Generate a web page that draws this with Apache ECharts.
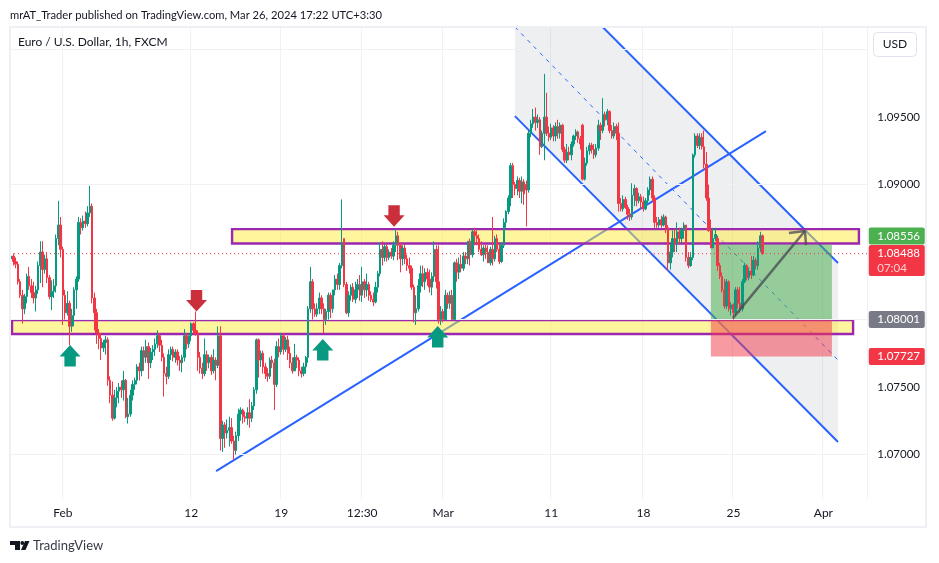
<!DOCTYPE html>
<html>
<head>
<meta charset="utf-8">
<title>EUR/USD 1h</title>
<script src="https://cdn.jsdelivr.net/npm/echarts@6/dist/echarts.min.js"></script>
<style>
    html, body { margin: 0; padding: 0; background: #fff; }
    #chart { width: 939px; height: 563px; }
</style>
</head>
<body>
<div id="chart"></div>
<script>
// 3 hour candles, one slot per 2.25px
const opens = [
    1.0845,1.0847,1.0843,1.0841,1.0828,1.0818,1.0808,1.0817,1.0832,1.0825,
    1.0820,1.0816,1.0822,1.0840,1.0850,1.0837,1.0845,1.0831,1.0817,1.0821,
    1.0825,1.0860,1.0870,1.0852,1.0818,1.0805,1.0812,1.0795,1.0803,1.0822,
    1.0830,1.0872,1.0868,1.0873,1.0871,1.0879,1.0884,1.0816,1.0805,1.0790,
    1.0786,1.0779,1.0783,1.0785,1.0755,1.0744,1.0727,1.0742,1.0747,1.0750,
    1.0748,1.0755,1.0728,1.0730,1.0744,1.0752,1.0755,1.0765,1.0762,1.0777,
    1.0772,1.0780,1.0768,1.0776,1.0778,1.0782,1.0788,1.0781,1.0772,1.0760,
    1.0758,1.0774,1.0778,1.0772,1.0776,1.0770,1.0768,1.0772,1.0788,1.0782,
    1.0788,1.0797,1.0792,1.0790,1.0772,1.0764,1.0760,1.0774,1.0768,1.0772,
    1.0762,1.0770,1.0766,1.0788,1.0712,1.0722,1.0716,1.0718,1.0720,1.0710,
    1.0703,1.0714,1.0730,1.0733,1.0728,1.0727,1.0731,1.0727,1.0736,1.0748,
    1.0785,1.0770,1.0775,1.0765,1.0760,1.0758,1.0770,1.0768,1.0752,1.0780,
    1.0776,1.0788,1.0778,1.0785,1.0775,1.0768,1.0762,1.0772,1.0770,1.0762,
    1.0760,1.0765,1.0772,1.0808,1.0828,1.0808,1.0804,1.0808,1.0816,1.0808,
    1.0800,1.0806,1.0818,1.0808,1.0822,1.0830,1.0826,1.0840,1.0860,1.0826,
    1.0805,1.0818,1.0824,1.0815,1.0822,1.0826,1.0818,1.0828,1.0822,1.0826,
    1.0818,1.0815,1.0813,1.0824,1.0834,1.0852,1.0846,1.0854,1.0846,1.0850,
    1.0847,1.0855,1.0862,1.0855,1.0845,1.0853,1.0845,1.0840,1.0838,1.0824,
    1.0805,1.0808,1.0825,1.0834,1.0828,1.0835,1.0830,1.0824,1.0832,1.0852,
    1.0828,1.0800,1.0806,1.0800,1.0818,1.0812,1.0818,1.0800,1.0842,1.0835,
    1.0841,1.0838,1.0847,1.0845,1.0858,1.0848,1.0865,1.0862,1.0860,1.0852,
    1.0848,1.0853,1.0850,1.0842,1.0852,1.0845,1.0860,1.0852,1.0843,1.0855,
    1.0872,1.0880,1.0890,1.0914,1.0900,1.0897,1.0903,1.0895,1.0902,1.0900,
    1.0896,1.0938,1.0945,1.0950,1.0946,1.0948,1.0928,1.0938,1.0950,1.0938,
    1.0935,1.0942,1.0936,1.0943,1.0938,1.0944,1.0926,1.0918,1.0924,1.0922,
    1.0930,1.0936,1.0939,1.0934,1.0944,1.0904,1.0916,1.0925,1.0929,1.0926,
    1.0922,1.0927,1.0944,1.0940,1.0952,1.0948,1.0954,1.0940,1.0936,1.0943,
    1.0938,1.0886,1.0882,1.0889,1.0883,1.0878,1.0876,1.0892,1.0897,1.0888,
    1.0891,1.0887,1.0882,1.0888,1.0896,1.0904,1.0890,1.0872,1.0870,1.0874,
    1.0870,1.0876,1.0868,1.0842,1.0850,1.0860,1.0856,1.0865,1.0860,1.0866,
    1.0870,1.0846,1.0840,1.0846,1.0922,1.0936,1.0929,1.0935,1.0928,1.0915,
    1.0890,1.0866,1.0853,1.0860,1.0860,1.0840,1.0832,1.0822,1.0810,1.0828,
    1.0808,1.0811,1.0805,1.0822,1.0812,1.0808,1.0828,1.0840,1.0831,1.0836,
    1.0833,1.0844,1.0840,1.0853,1.0862
];
const closes = [
    1.0847,1.0843,1.0841,1.0828,1.0818,1.0808,1.0817,1.0832,1.0825,1.0820,
    1.0816,1.0822,1.0840,1.0850,1.0837,1.0845,1.0831,1.0817,1.0821,1.0825,
    1.0860,1.0870,1.0852,1.0818,1.0805,1.0812,1.0795,1.0803,1.0822,1.0830,
    1.0872,1.0868,1.0873,1.0871,1.0879,1.0884,1.0816,1.0805,1.0790,1.0786,
    1.0779,1.0783,1.0785,1.0755,1.0744,1.0727,1.0742,1.0747,1.0750,1.0748,
    1.0755,1.0728,1.0730,1.0744,1.0752,1.0755,1.0765,1.0762,1.0777,1.0772,
    1.0780,1.0768,1.0776,1.0778,1.0782,1.0788,1.0781,1.0772,1.0760,1.0758,
    1.0774,1.0778,1.0772,1.0776,1.0770,1.0768,1.0772,1.0788,1.0782,1.0788,
    1.0797,1.0792,1.0790,1.0772,1.0764,1.0760,1.0774,1.0768,1.0772,1.0762,
    1.0770,1.0766,1.0788,1.0712,1.0722,1.0716,1.0718,1.0720,1.0710,1.0703,
    1.0714,1.0730,1.0733,1.0728,1.0727,1.0731,1.0727,1.0736,1.0748,1.0785,
    1.0770,1.0775,1.0765,1.0760,1.0758,1.0770,1.0768,1.0752,1.0780,1.0776,
    1.0788,1.0778,1.0785,1.0775,1.0768,1.0762,1.0772,1.0770,1.0762,1.0760,
    1.0765,1.0772,1.0808,1.0828,1.0808,1.0804,1.0808,1.0816,1.0808,1.0800,
    1.0806,1.0818,1.0808,1.0822,1.0830,1.0826,1.0840,1.0857,1.0826,1.0805,
    1.0818,1.0824,1.0815,1.0822,1.0826,1.0818,1.0828,1.0822,1.0826,1.0818,
    1.0815,1.0813,1.0824,1.0834,1.0852,1.0846,1.0854,1.0846,1.0850,1.0847,
    1.0855,1.0862,1.0855,1.0845,1.0853,1.0845,1.0840,1.0838,1.0824,1.0805,
    1.0808,1.0825,1.0834,1.0828,1.0835,1.0830,1.0824,1.0832,1.0852,1.0828,
    1.0800,1.0806,1.0800,1.0818,1.0812,1.0818,1.0800,1.0842,1.0835,1.0841,
    1.0838,1.0847,1.0845,1.0858,1.0848,1.0865,1.0862,1.0860,1.0852,1.0848,
    1.0853,1.0850,1.0842,1.0852,1.0845,1.0860,1.0852,1.0843,1.0855,1.0872,
    1.0880,1.0890,1.0914,1.0900,1.0897,1.0903,1.0895,1.0902,1.0893,1.0896,
    1.0938,1.0945,1.0950,1.0946,1.0948,1.0928,1.0938,1.0950,1.0938,1.0935,
    1.0942,1.0936,1.0943,1.0938,1.0944,1.0926,1.0918,1.0924,1.0922,1.0930,
    1.0936,1.0939,1.0934,1.0930,1.0904,1.0916,1.0925,1.0929,1.0926,1.0922,
    1.0927,1.0944,1.0940,1.0952,1.0948,1.0954,1.0940,1.0936,1.0943,1.0938,
    1.0886,1.0882,1.0889,1.0883,1.0878,1.0876,1.0892,1.0897,1.0888,1.0891,
    1.0887,1.0882,1.0888,1.0896,1.0904,1.0890,1.0872,1.0870,1.0874,1.0870,
    1.0876,1.0868,1.0842,1.0850,1.0860,1.0856,1.0865,1.0860,1.0866,1.0870,
    1.0846,1.0840,1.0846,1.0922,1.0936,1.0929,1.0935,1.0928,1.0915,1.0890,
    1.0866,1.0853,1.0860,1.0863,1.0840,1.0832,1.0822,1.0810,1.0828,1.0808,
    1.0811,1.0805,1.0822,1.0812,1.0808,1.0828,1.0840,1.0831,1.0836,1.0833,
    1.0844,1.0840,1.0853,1.0862,1.08488
];
const lows = [
    1.0842,1.0840,1.0838,1.0826,1.0816,1.0797,1.0804,1.0812,1.0822,1.0816,
    1.0812,1.0806,1.0819,1.0827,1.0824,1.0834,1.0827,1.0815,1.0807,1.0816,
    1.0820,1.0855,1.0846,1.0796,1.0800,1.0803,1.0781,1.0791,1.0795,1.0808,
    1.0828,1.0863,1.0866,1.0868,1.0869,1.0876,1.0812,1.0792,1.0782,1.0778,
    1.0770,1.0776,1.0774,1.0751,1.0738,1.0725,1.0726,1.0735,1.0738,1.0742,
    1.0740,1.0727,1.0723,1.0728,1.0740,1.0748,1.0752,1.0755,1.0758,1.0762,
    1.0768,1.0756,1.0764,1.0770,1.0773,1.0779,1.0776,1.0769,1.0743,1.0752,
    1.0756,1.0770,1.0769,1.0768,1.0766,1.0762,1.0761,1.0769,1.0778,1.0779,
    1.0784,1.0789,1.0788,1.0762,1.0760,1.0756,1.0758,1.0762,1.0764,1.0759,
    1.0760,1.0755,1.0764,1.0703,1.0702,1.0705,1.0712,1.0706,1.0708,1.0696,
    1.0700,1.0710,1.0725,1.0723,1.0724,1.0722,1.0720,1.0724,1.0733,1.0745,
    1.0757,1.0765,1.0760,1.0756,1.0754,1.0756,1.0764,1.0733,1.0750,1.0772,
    1.0774,1.0774,1.0776,1.0770,1.0764,1.0760,1.0762,1.0764,1.0758,1.0757,
    1.0758,1.0760,1.0768,1.0805,1.0800,1.0802,1.0802,1.0804,1.0804,1.0790,
    1.0796,1.0800,1.0801,1.0805,1.0818,1.0822,1.0822,1.0838,1.0824,1.0804,
    1.0802,1.0814,1.0813,1.0812,1.0816,1.0814,1.0813,1.0816,1.0817,1.0814,
    1.0813,1.0810,1.0812,1.0820,1.0832,1.0840,1.0843,1.0843,1.0844,1.0845,
    1.0844,1.0850,1.0844,1.0835,1.0840,1.0841,1.0836,1.0834,1.0822,1.0798,
    1.0796,1.0806,1.0820,1.0824,1.0822,1.0825,1.0820,1.0818,1.0828,1.0823,
    1.0797,1.0796,1.0798,1.0800,1.0808,1.0808,1.0800,1.0800,1.0828,1.0830,
    1.0835,1.0836,1.0841,1.0841,1.0840,1.0846,1.0855,1.0855,1.0850,1.0847,
    1.0843,1.0845,1.0842,1.0840,1.0840,1.0843,1.0850,1.0841,1.0842,1.0853,
    1.0868,1.0878,1.0884,1.0890,1.0892,1.0892,1.0890,1.0886,1.0885,1.0869,
    1.0894,1.0935,1.0942,1.0940,1.0942,1.0922,1.0927,1.0918,1.0936,1.0932,
    1.0933,1.0932,1.0932,1.0934,1.0934,1.0924,1.0916,1.0916,1.0918,1.0918,
    1.0928,1.0933,1.0931,1.0926,1.0903,1.0903,1.0914,1.0922,1.0923,1.0919,
    1.0920,1.0925,1.0933,1.0938,1.0943,1.0944,1.0938,1.0934,1.0934,1.0933,
    1.0880,1.0880,1.0880,1.0882,1.0874,1.0873,1.0874,1.0884,1.0884,1.0886,
    1.0882,1.0880,1.0881,1.0886,1.0892,1.0888,1.0868,1.0868,1.0868,1.0868,
    1.0869,1.0864,1.0836,1.0837,1.0846,1.0850,1.0850,1.0856,1.0857,1.0860,
    1.0843,1.0838,1.0839,1.0844,1.0920,1.0927,1.0926,1.0926,1.0912,1.0888,
    1.0865,1.0853,1.0853,1.0858,1.0836,1.0830,1.0820,1.0808,1.0808,1.0806,
    1.0803,1.0800,1.0803,1.0808,1.0805,1.0806,1.0827,1.0829,1.0829,1.0830,
    1.0832,1.0837,1.0837,1.0850,1.0848
];
const highs = [
    1.0848,1.0849,1.0846,1.0843,1.0830,1.0822,1.0819,1.0834,1.0839,1.0830,
    1.0828,1.0825,1.0843,1.0858,1.0858,1.0848,1.0850,1.0833,1.0829,1.0830,
    1.0863,1.0888,1.0876,1.0854,1.0822,1.0821,1.0814,1.0808,1.0824,1.0832,
    1.0876,1.0875,1.0877,1.0880,1.0884,1.0899,1.0886,1.0820,1.0808,1.0793,
    1.0790,1.0785,1.0788,1.0787,1.0758,1.0754,1.0748,1.0750,1.0753,1.0755,
    1.0762,1.0756,1.0742,1.0748,1.0755,1.0757,1.0767,1.0768,1.0780,1.0780,
    1.0785,1.0783,1.0779,1.0781,1.0786,1.0792,1.0790,1.0785,1.0775,1.0765,
    1.0778,1.0780,1.0780,1.0778,1.0778,1.0773,1.0774,1.0793,1.0790,1.0790,
    1.0798,1.0798,1.0806,1.0792,1.0776,1.0768,1.0786,1.0777,1.0774,1.0774,
    1.0778,1.0772,1.0795,1.0795,1.0725,1.0724,1.0726,1.0728,1.0727,1.0714,
    1.0717,1.0734,1.0735,1.0734,1.0732,1.0735,1.0741,1.0739,1.0750,1.0786,
    1.0786,1.0777,1.0777,1.0768,1.0764,1.0772,1.0773,1.0771,1.0784,1.0786,
    1.0790,1.0790,1.0787,1.0788,1.0780,1.0772,1.0782,1.0774,1.0772,1.0765,
    1.0768,1.0773,1.0810,1.0839,1.0830,1.0812,1.0812,1.0820,1.0818,1.0812,
    1.0808,1.0820,1.0820,1.0822,1.0833,1.0834,1.0842,1.0889,1.0860,1.0828,
    1.0821,1.0826,1.0827,1.0828,1.0830,1.0833,1.0839,1.0830,1.0834,1.0828,
    1.0821,1.0820,1.0828,1.0836,1.0857,1.0858,1.0856,1.0856,1.0852,1.0853,
    1.0858,1.0867,1.0865,1.0857,1.0855,1.0856,1.0848,1.0846,1.0840,1.0826,
    1.0818,1.0830,1.0840,1.0840,1.0838,1.0838,1.0837,1.0835,1.0858,1.0855,
    1.0855,1.0810,1.0808,1.0822,1.0820,1.0821,1.0822,1.0843,1.0845,1.0846,
    1.0848,1.0850,1.0850,1.0858,1.0860,1.0867,1.0868,1.0866,1.0863,1.0858,
    1.0855,1.0856,1.0855,1.0854,1.0876,1.0862,1.0863,1.0856,1.0857,1.0875,
    1.0881,1.0892,1.0916,1.0916,1.0902,1.0906,1.0905,1.0906,1.0904,1.0903,
    1.0940,1.0948,1.0956,1.0957,1.0952,1.0950,1.0940,1.0982,1.0968,1.0943,
    1.0945,1.0944,1.0946,1.0948,1.0946,1.0945,1.0928,1.0930,1.0928,1.0932,
    1.0937,1.0941,1.0940,1.0936,1.0945,1.0920,1.0928,1.0931,1.0931,1.0930,
    1.0930,1.0948,1.0946,1.0964,1.0954,1.0956,1.0955,1.0944,1.0946,1.0945,
    1.0946,1.0890,1.0892,1.0891,1.0885,1.0882,1.0901,1.0900,1.0898,1.0894,
    1.0893,1.0891,1.0890,1.0898,1.0906,1.0906,1.0892,1.0876,1.0876,1.0877,
    1.0878,1.0877,1.0870,1.0856,1.0866,1.0867,1.0872,1.0868,1.0868,1.0872,
    1.0870,1.0850,1.0850,1.0923,1.0938,1.0938,1.0938,1.0938,1.0940,1.0924,
    1.0900,1.0874,1.0868,1.0868,1.0862,1.0842,1.0835,1.0830,1.0830,1.0829,
    1.0813,1.0812,1.0824,1.0824,1.0824,1.0830,1.0842,1.0841,1.0838,1.0847,
    1.0847,1.0846,1.0858,1.0865,1.0863
];

const slotCount = 381;
const tickIndexes = [23, 80, 120, 156, 192, 240, 281, 321, 361];
const tickLabels = ['Feb', '12', '19', '12:30', 'Mar', '11', '18', '25', 'Apr'];

const priceMin = 1.06671;
const priceMax = 1.10167;
const priceLabels = [1.07, 1.075, 1.08, 1.085, 1.09, 1.095];
const priceGrid = [1.07, 1.075, 1.08, 1.085, 1.09, 1.095, 1.10];

const lastPrice = 1.08488;

// drawings, x is the slot number
const trendLine = [[91.1, 1.06878], [335.5, 1.09396]];
const channelLower = [[223.9, 1.09507], [367.5, 1.07093]];
const channelUpper = [[223.9, 1.10819], [367.5, 1.08419]];
const channelMiddle = [[223.9, 1.10167], [367.5, 1.07700]];
const upperZone = [98.2, 376.8, 1.0867, 1.08563];
const lowerZone = [0.4, 374.2, 1.07996, 1.07893];
const profitBox = [311, 364.8, 1.08556, 1.08001];
const lossBox = [311, 364.8, 1.08001, 1.07727];
const entryLine = [[311, 1.08001], [364.8, 1.08001]];
const targetArrow = [[320.8, 1.08011], [352.8, 1.08656]];
const targetArrowHead = [[345.7, 1.08641], [352.8, 1.08656], [353.3, 1.08552]];
const upArrows = [[26.2, 1.07811], [138.5, 1.07856], [189.6, 1.07952]];
const downArrows = [[82.4, 1.08059], [170.2, 1.08687]];

// price tags on the right, the top one is pushed up by the red one
const tagPrices = [1.08619, 1.08437, 1.08001, 1.07726];
const tagTexts = ['1.08556', '1.08488', '1.08001', '1.07727'];
const tagColors = ['#4caf50', '#f23645', '#787b86', '#f23645'];
const tagHeights = [17, 31, 17, 17];

var categories = [];
for (var i = 0; i < slotCount; i++) {
    var at = tickIndexes.indexOf(i);
    categories.push(at >= 0 ? tickLabels[at] : '');
}

var candleData = opens.map((o, idx) => [o, closes[idx], lows[idx], highs[idx]]);

var fontName = 'Lato, sans-serif';
var isTick = (idx) => tickIndexes.indexOf(idx) >= 0;

var lineSeries = (data, color, width, z, type) => ({
    type: 'line',
    xAxisIndex: 1,
    data: data,
    symbol: 'none',
    silent: true,
    z: z,
    animation: false,
    lineStyle: { color: color, width: width, type: type || 'solid' }
});

var rectSeries = (rows, fill, stroke, z) => ({
    type: 'custom',
    xAxisIndex: 1,
    z: z,
    clip: true,
    silent: true,
    data: rows,
    renderItem: (params, api) => {
        var a = api.coord([api.value(0), api.value(2)]);
        var b = api.coord([api.value(1), api.value(3)]);
        return {
            type: 'rect',
            shape: { x: a[0], y: a[1], width: b[0] - a[0], height: b[1] - a[1] },
            style: { fill: fill, stroke: stroke, lineWidth: stroke ? 2.4 : 0 }
        };
    }
});

var arrowSeries = (rows, color, dir) => ({
    type: 'custom',
    xAxisIndex: 1,
    z: 8,
    silent: true,
    data: rows,
    renderItem: (params, api) => {
        var p = api.coord([api.value(0), api.value(1)]);
        var pts = [[0, 0], [10.5, 11.5], [5.7, 11.5], [5.7, 21.5], [-5.7, 21.5], [-5.7, 11.5], [-10.5, 11.5]];
        return {
            type: 'polygon',
            shape: { points: pts.map(q => [p[0] + q[0], p[1] + q[1] * dir]) },
            style: { fill: color }
        };
    }
});

var option = {
    animation: false,
    backgroundColor: '#ffffff',
    textStyle: { fontFamily: fontName },
    grid: { left: 10, top: 27, width: 857.25, height: 472 },
    xAxis: [
        {
            type: 'category',
            data: categories,
            axisLine: { show: false },
            axisTick: { show: false },
            axisLabel: { interval: (idx) => isTick(idx), color: '#131722', fontSize: 12, margin: 8, fontFamily: fontName },
            splitLine: { show: true, interval: (idx) => isTick(idx), lineStyle: { color: '#f0f1f4', width: 1 } }
        },
        { type: 'value', show: false, min: -0.5, max: slotCount - 0.5, splitLine: { show: false } }
    ],
    yAxis: {
        type: 'value',
        position: 'right',
        min: priceMin,
        max: priceMax,
        axisLine: { show: false },
        axisTick: { show: false },
        axisLabel: {
            color: '#131722',
            fontSize: 11.5,
            margin: 10,
            fontFamily: fontName,
            customValues: priceLabels,
            formatter: (v) => v.toFixed(5)
        },
        splitLine: { show: false }
    },
    series: [
        // price grid lines, the axis would count them from min
        {
            type: 'line',
            xAxisIndex: 1,
            data: [],
            z: 0,
            silent: true,
            markLine: {
                silent: true,
                symbol: 'none',
                animation: false,
                label: { show: false },
                lineStyle: { color: '#f0f1f4', width: 1, type: 'solid' },
                data: priceGrid.map(p => ({ yAxis: p }))
            }
        },
        // channel background
        {
            type: 'custom',
            xAxisIndex: 1,
            z: 1,
            clip: true,
            silent: true,
            data: [[channelLower[0][0]]],
            renderItem: (params, api) => ({
                type: 'polygon',
                shape: {
                    points: [channelLower[0], channelLower[1], channelUpper[1], channelUpper[0]].map(p => api.coord(p))
                },
                style: { fill: 'rgba(115,120,140,0.12)' }
            })
        },
        lineSeries(channelLower, '#2962ff', 2, 2),
        lineSeries(channelUpper, '#2962ff', 2, 2),
        lineSeries(channelMiddle, '#2962ff', 1, 2, [4, 5]),
        lineSeries(trendLine, '#2962ff', 2, 2),
        rectSeries([upperZone, lowerZone], 'rgba(255,235,59,0.5)', '#9c27b0', 3),
        rectSeries([profitBox], 'rgba(76,175,80,0.55)', null, 4),
        rectSeries([lossBox], 'rgba(242,54,69,0.5)', null, 4),
        lineSeries(entryLine, 'rgba(120,123,134,0.7)', 1, 4),
        {
            type: 'candlestick',
            xAxisIndex: 0,
            z: 5,
            barWidth: 2,
            silent: true,
            data: candleData,
            itemStyle: {
                color: '#089981',
                color0: '#f23645',
                borderColor: '#089981',
                borderColor0: '#f23645',
                borderWidth: 1
            }
        },
        lineSeries([[-0.5, lastPrice], [slotCount - 0.5, lastPrice]], '#f23645', 1, 6, [1, 3]),
        lineSeries(targetArrow, 'rgba(70,72,80,0.75)', 2.5, 7),
        lineSeries(targetArrowHead, 'rgba(70,72,80,0.75)', 2.5, 7),
        arrowSeries(upArrows, '#089981', 1),
        arrowSeries(downArrows, '#cc2f3c', -1),
        // price tags
        {
            type: 'custom',
            xAxisIndex: 1,
            z: 20,
            clip: false,
            silent: true,
            data: tagPrices.map((p, idx) => [slotCount - 0.5, p]),
            renderItem: (params, api) => {
                var idx = params.dataIndex;
                var p = api.coord([api.value(0), api.value(1)]);
                var h = tagHeights[idx];
                var children = [
                    {
                        type: 'rect',
                        shape: { x: p[0] + 1.5, y: p[1] - h / 2, width: 56, height: h, r: 2 },
                        style: { fill: tagColors[idx] }
                    },
                    {
                        type: 'text',
                        style: {
                            x: p[0] + 10, y: p[1] - h / 2 + 8.5, text: tagTexts[idx], fill: '#ffffff',
                            font: '11.5px ' + fontName, verticalAlign: 'middle'
                        }
                    }
                ];
                if (idx == 1)
                    children.push({
                        type: 'text',
                        style: {
                            x: p[0] + 10, y: p[1] + 8, text: '07:04', fill: 'rgba(255,255,255,0.75)',
                            font: '11.5px ' + fontName, verticalAlign: 'middle'
                        }
                    });
                return { type: 'group', children: children };
            }
        }
    ],
    graphic: [
        {
            type: 'rect', z: 30, silent: true,
            shape: { x: 10, y: 27, width: 916, height: 500 },
            style: { fill: 'none', stroke: '#eef0f5', lineWidth: 2 }
        },
        {
            type: 'text', z: 30, silent: true, x: 10, y: 15,
            style: { text: 'mrAT_Trader published on TradingView.com, Mar 26, 2024 17:22 UTC+3:30', fill: '#131722', font: '11.2px ' + fontName, verticalAlign: 'middle' }
        },
        {
            type: 'text', z: 30, silent: true, x: 18, y: 42,
            style: { text: 'Euro / U.S. Dollar, 1h, FXCM', fill: '#131722', font: '12px ' + fontName, verticalAlign: 'middle' }
        },
        {
            type: 'rect', z: 30, silent: true,
            shape: { x: 873.5, y: 32.5, width: 43, height: 24, r: 4 },
            style: { fill: '#ffffff', stroke: '#e0e3eb', lineWidth: 1 }
        },
        {
            type: 'text', z: 31, silent: true, x: 895, y: 44.5,
            style: { text: 'USD', fill: '#131722', font: '12px ' + fontName, align: 'center', verticalAlign: 'middle' }
        },
        // small logo
        { type: 'polygon', z: 30, silent: true, shape: { points: [[10, 541], [20, 541], [20, 550], [15, 550], [15, 545], [10, 545]] }, style: { fill: '#131722' } },
        { type: 'circle', z: 30, silent: true, shape: { cx: 22.3, cy: 543, r: 1.9 }, style: { fill: '#131722' } },
        { type: 'polygon', z: 30, silent: true, shape: { points: [[25, 541], [29.5, 541], [25.5, 550], [21, 550]] }, style: { fill: '#131722' } },
        {
            type: 'text', z: 30, silent: true, x: 33, y: 545.5,
            style: { text: 'TradingView', fill: '#363a45', font: '13px ' + fontName, verticalAlign: 'middle' }
        }
    ]
};

var myChart = echarts.init(document.getElementById('chart'));
myChart.setOption(option, true);

window.addEventListener('resize', function () {
    myChart.resize();
});
</script>
</body>
</html>
